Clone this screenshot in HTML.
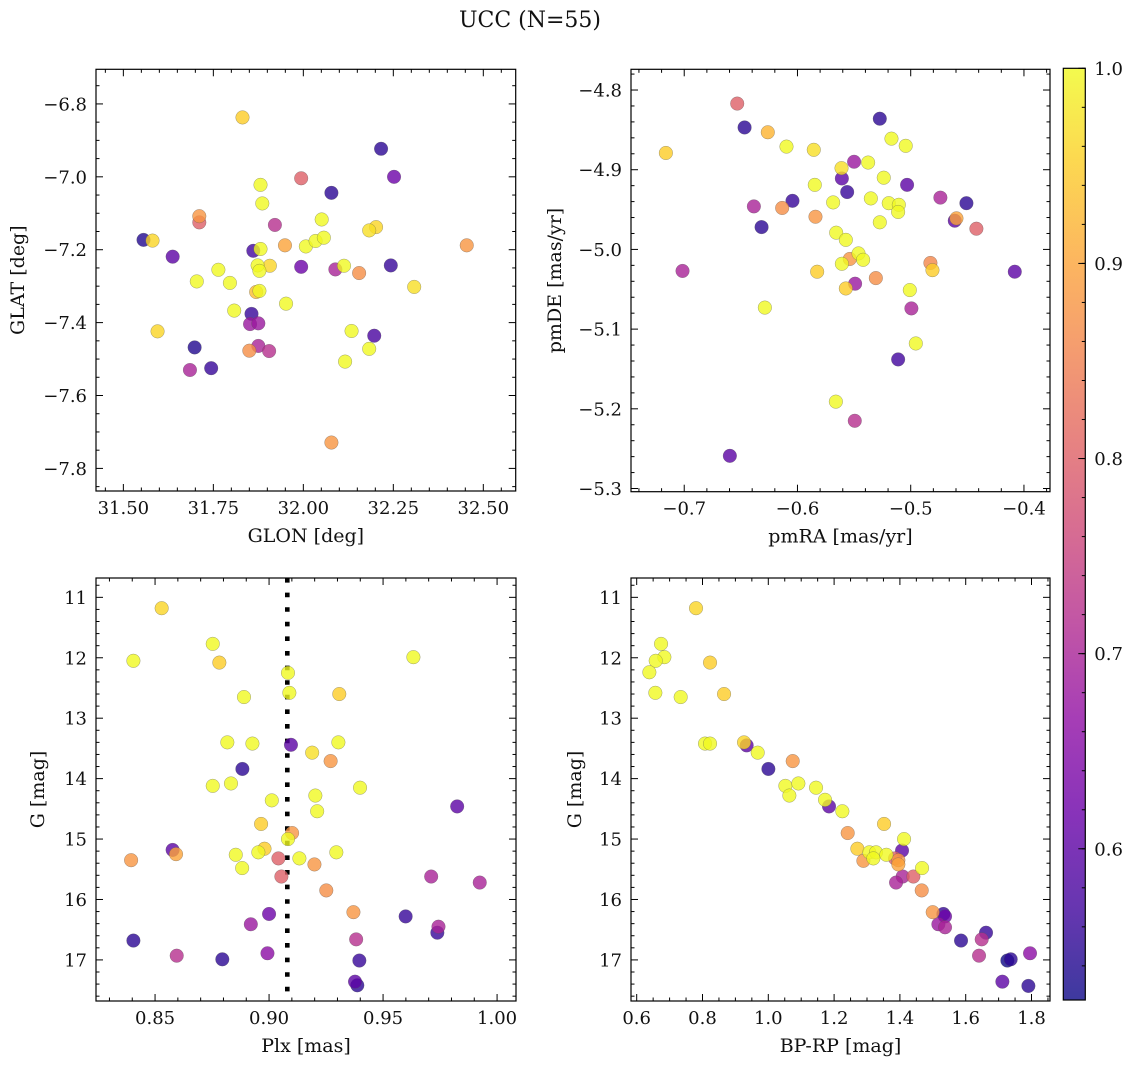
<!DOCTYPE html>
<html>
<head>
<meta charset="utf-8">
<style>
  html,body{margin:0;padding:0;background:#fff;}
  svg{display:block;}
  text{font-family:"DejaVu Serif","Liberation Serif",serif;fill:#111;}
</style>
</head>
<body>
<svg id="fig" width="1136" height="1068" viewBox="0 0 1136 1068" xmlns="http://www.w3.org/2000/svg">
  <text x="530" y="27" font-size="22" text-anchor="middle">UCC (N=55)</text>
</svg>
<script>
// ---- Panel 1: positions ----
const glon=[31.831,32.216,32.252,31.994,32.078,31.881,31.886,31.711,31.711,31.921,32.051,32.183,32.202,31.556,31.581,31.637,31.861,31.881,31.949,32.007,32.034,32.057,32.454,31.764,31.704,31.796,31.873,31.878,31.907,31.994,32.089,32.113,32.155,32.243,32.308,31.869,31.878,31.952,31.808,31.856,31.852,31.875,31.595,32.134,32.197,31.698,31.850,31.875,31.905,32.183,32.116,31.685,31.744,32.078];
const glat=[-6.837,-6.923,-7.000,-7.004,-7.044,-7.022,-7.073,-7.108,-7.125,-7.132,-7.117,-7.147,-7.138,-7.173,-7.175,-7.219,-7.203,-7.198,-7.188,-7.191,-7.176,-7.167,-7.188,-7.255,-7.287,-7.291,-7.243,-7.258,-7.244,-7.247,-7.254,-7.244,-7.264,-7.243,-7.302,-7.316,-7.313,-7.348,-7.367,-7.376,-7.404,-7.402,-7.424,-7.423,-7.436,-7.468,-7.477,-7.464,-7.478,-7.472,-7.507,-7.530,-7.525,-7.729];
const probPos=[0.95,0.55,0.62,0.80,0.55,1,1,0.88,0.80,0.72,1,0.97,0.96,0.54,0.96,0.60,0.57,1,0.90,1,1,1,0.88,1,1,1,1,1,0.96,0.62,0.70,1,0.87,0.56,0.97,0.93,1,1,1,0.56,0.68,0.68,0.96,1,0.58,0.54,0.87,0.70,0.72,1,1,0.70,0.56,0.88];
// ---- Panel 2: proper motions ----
const pmra=[-0.7162,-0.7015,-0.6532,-0.6467,-0.6262,-0.6097,-0.5856,-0.6385,-0.6135,-0.6044,-0.6317,-0.6288,-0.6597,-0.5847,-0.5841,-0.5826,-0.5685,-0.5611,-0.5608,-0.5561,-0.5500,-0.5658,-0.5573,-0.5538,-0.5461,-0.5420,-0.5608,-0.5491,-0.5573,-0.5273,-0.5170,-0.5044,-0.5376,-0.5238,-0.5032,-0.5352,-0.5194,-0.5105,-0.5111,-0.5273,-0.5308,-0.5008,-0.4994,-0.4955,-0.5111,-0.5661,-0.5494,-0.4738,-0.4508,-0.4611,-0.4596,-0.4420,-0.4826,-0.4808,-0.4081];
const pmde=[-4.879,-5.027,-4.817,-4.847,-4.853,-4.871,-4.875,-4.946,-4.948,-4.939,-4.972,-5.073,-5.259,-4.919,-4.959,-5.028,-4.941,-4.898,-4.911,-4.928,-4.890,-4.979,-4.988,-5.012,-5.005,-5.013,-5.018,-5.043,-5.049,-4.836,-4.861,-4.870,-4.891,-4.910,-4.919,-4.936,-4.942,-4.944,-4.953,-4.966,-5.036,-5.051,-5.074,-5.118,-5.138,-5.191,-5.215,-4.935,-4.942,-4.964,-4.961,-4.974,-5.017,-5.026,-5.028];
const probPm=[0.95,0.70,0.80,0.55,0.92,1,0.97,0.70,0.87,0.56,0.55,1,0.60,1,0.88,0.95,1,0.97,0.60,0.56,0.68,1,1,0.88,1,1,1,0.68,0.95,0.55,1,1,1,1,0.60,1,1,1,1,1,0.87,1,0.70,1,0.57,1,0.72,0.70,0.55,0.60,0.90,0.80,0.86,0.95,0.60];
// ---- Panel 3: parallax vs G ----
const plx=[0.8529,0.8753,0.8405,0.8782,0.9633,0.9083,0.9089,0.8890,0.9308,0.8817,0.8927,0.9096,0.9304,0.9189,0.9270,0.8883,0.8753,0.8833,0.9399,0.9012,0.9203,0.9211,0.9825,0.8965,0.9101,0.9083,0.8577,0.8592,0.8395,0.8854,0.8980,0.8953,0.9041,0.9133,0.9295,0.8882,0.9199,0.9054,0.9711,0.9924,0.9251,0.9370,0.9000,0.9599,0.8920,0.9743,0.9738,0.8405,0.9382,0.8595,0.8795,0.8993,0.9396,0.9377,0.9387];
const gPlx=[11.18,11.77,12.05,12.08,11.99,12.25,12.58,12.65,12.60,13.40,13.42,13.44,13.40,13.57,13.71,13.84,14.12,14.08,14.15,14.36,14.28,14.54,14.46,14.75,14.90,15.00,15.18,15.25,15.35,15.26,15.16,15.22,15.32,15.32,15.22,15.48,15.42,15.62,15.62,15.72,15.85,16.21,16.24,16.28,16.41,16.45,16.55,16.68,16.66,16.93,16.99,16.89,17.01,17.36,17.42];
const probPlx=[0.96,1,1,0.95,1,1,1,1,0.95,1,1,0.60,1,0.97,0.88,0.55,1,1,1,1,1,1,0.60,0.95,0.88,1,0.60,0.90,0.88,1,0.95,1,0.80,1,1,1,0.88,0.80,0.70,0.70,0.87,0.88,0.62,0.56,0.68,0.70,0.56,0.55,0.72,0.72,0.55,0.66,0.56,0.60,0.55];
const plxMedian=[0.908];
// ---- Panel 4: CMD ----
const bprp=[0.7803,0.6740,0.6841,0.6578,0.6385,0.8229,0.6567,0.7337,0.8655,0.8077,0.8229,0.9343,0.9262,0.9678,1.0742,1.0002,1.0519,1.0914,1.1451,1.0640,1.1724,1.1846,1.2251,1.3518,1.2413,1.4126,1.4065,1.3953,1.2890,1.2707,1.3072,1.3274,1.3852,1.3193,1.3589,1.4673,1.3953,1.4409,1.4085,1.3883,1.4663,1.4997,1.5372,1.5321,1.5169,1.5372,1.6618,1.5858,1.6486,1.6405,1.7368,1.7955,1.7266,1.7114,1.7905];
const gCmd=[11.18,11.77,11.99,12.05,12.24,12.08,12.58,12.65,12.60,13.42,13.42,13.45,13.40,13.57,13.71,13.84,14.12,14.08,14.15,14.28,14.35,14.46,14.54,14.75,14.90,15.00,15.19,15.42,15.36,15.16,15.22,15.22,15.32,15.32,15.26,15.48,15.35,15.62,15.62,15.72,15.85,16.21,16.28,16.24,16.41,16.46,16.55,16.68,16.66,16.93,16.99,16.89,17.01,17.36,17.43];
const probCmd=[0.96,1,1,1,1,0.95,1,1,0.95,1,1,0.60,0.96,1,0.88,0.55,1,1,1,1,1,0.60,1,0.95,0.88,1,0.60,0.90,0.88,0.95,1,1,0.80,1,1,1,0.88,0.80,0.70,0.70,0.87,0.88,0.62,0.56,0.68,0.70,0.56,0.55,0.72,0.72,0.55,0.66,0.52,0.60,0.55];
// ---- Colorbar ----
const cbTicks=[0.6,0.7,0.8,0.9,1.0];
const cbRange=[0.5225,1.0];

const NS="http://www.w3.org/2000/svg";
const svg=document.getElementById('fig');
function mk(tag,attrs,parent){const e=document.createElementNS(NS,tag);for(const k in attrs)e.setAttribute(k,attrs[k]);(parent||svg).appendChild(e);return e;}

const plasma=[[13,8,135],[65,4,157],[106,0,168],[143,13,164],[177,42,144],[204,71,120],[225,100,98],[242,132,75],[252,166,54],[252,206,37],[240,249,33]];
function cmap(p){let t=(p-cbRange[0])/(cbRange[1]-cbRange[0]);t=Math.max(0,Math.min(1,t));const s=t*10;const i=Math.min(9,Math.floor(s));const f=s-i;const a=plasma[i],b=plasma[i+1];return 'rgb('+a.map((v,k)=>Math.round(v+(b[k]-v)*f)).join(',')+')';}
function fmt(v,d){const s=Math.abs(v).toFixed(d);return (v<-1e-9?'\u2212':'')+s;}

const TICKFS=18, LABELFS=19;
function panel(cfg){
  const [L,T,R,B]=cfg.box;
  const sx=v=>L+(v-cfg.xlim[0])/(cfg.xlim[1]-cfg.xlim[0])*(R-L);
  const sy=v=>T+(v-cfg.ylim[0])/(cfg.ylim[1]-cfg.ylim[0])*(B-T);
  const g=mk('g',{});
  
  
  const clipId='clip-'+cfg.name;
  const cp=mk('clipPath',{id:clipId},g);mk('rect',{x:L,y:T,width:R-L,height:B-T},cp);
  const n=Math.min(cfg.xs.length,cfg.ys.length,cfg.ps.length);
  const idx=[...Array(n).keys()].sort((a,b)=>cfg.ps[a]-cfg.ps[b]);
  const pg=mk('g',{'clip-path':'url(#'+clipId+')'},g);
  if(cfg.vline){
    const vl=mk('line',{x1:sx(cfg.vline[0]),x2:sx(cfg.vline[0]),y1:T,y2:B,stroke:'#000','stroke-width':4.6,'stroke-dasharray':'4.6 10'},pg);
    
    
  }
  idx.forEach(i=>{
    const c=mk('circle',{cx:sx(cfg.xs[i]),cy:sy(cfg.ys[i]),r:6.8,fill:cmap(cfg.ps[i]),'fill-opacity':0.8,stroke:'#555','stroke-opacity':0.55,'stroke-width':0.5},pg);
    
    
  });
  mk('rect',{x:L,y:T,width:R-L,height:B-T,fill:'none',stroke:'#000','stroke-width':1.2},g);
  function ticks(lo,hi,step){const a=[];const k0=Math.ceil(Math.min(lo,hi)/step-1e-6),k1=Math.floor(Math.max(lo,hi)/step+1e-6);for(let k=k0;k<=k1;k++)a.push(k*step);return a;}
  const isMaj=(v,step)=>Math.abs(v/step-Math.round(v/step))<1e-4;
  ticks(cfg.xlim[0],cfg.xlim[1],cfg.xminor).forEach(v=>{
    const maj=isMaj(v,cfg.xmajor);const len=maj?7:3.5;const x=sx(v);
    mk('line',{x1:x,x2:x,y1:B,y2:B-len,stroke:'#000','stroke-width':1},g);
    mk('line',{x1:x,x2:x,y1:T,y2:T+len,stroke:'#000','stroke-width':1},g);
    if(maj){const t=mk('text',{x:x,y:B+23,'font-size':TICKFS,'text-anchor':'middle'},g);t.textContent=fmt(v,cfg.xdec);
      }
  });
  ticks(cfg.ylim[0],cfg.ylim[1],cfg.yminor).forEach(v=>{
    const maj=isMaj(v,cfg.ymajor);const len=maj?7:3.5;const y=sy(v);
    mk('line',{x1:L,x2:L+len,y1:y,y2:y,stroke:'#000','stroke-width':1},g);
    mk('line',{x1:R,x2:R-len,y1:y,y2:y,stroke:'#000','stroke-width':1},g);
    if(maj){const t=mk('text',{x:L-9,y:y+6.5,'font-size':TICKFS,'text-anchor':'end'},g);t.textContent=fmt(v,cfg.ydec);
      }
  });
  const xl=mk('text',{x:(L+R)/2,y:B+51,'font-size':LABELFS,'text-anchor':'middle'},g);xl.textContent=cfg.xlabel;
  
  const yx=cfg.ylabelX,yy=(T+B)/2;
  const yl=mk('text',{x:yx,y:yy,'font-size':LABELFS,'text-anchor':'middle',transform:'rotate(-90 '+yx+' '+yy+')'},g);yl.textContent=cfg.ylabel;
  
}

panel({name:'panel-position',box:[96,69.3,515.7,491],xlim:[31.424,32.59],ylim:[-6.705,-7.862],xs:glon,ys:glat,ps:probPos,xmajor:0.25,xminor:0.05,xdec:2,ymajor:0.2,yminor:0.05,ydec:1,xlabel:'GLON [deg]',ylabel:'GLAT [deg]',ylabelX:24});
panel({name:'panel-proper-motion',box:[631,69.3,1050,491.7],xlim:[-0.747,-0.377],ylim:[-4.774,-5.304],xs:pmra,ys:pmde,ps:probPm,xmajor:0.1,xminor:0.02,xdec:1,ymajor:0.1,yminor:0.02,ydec:1,xlabel:'pmRA [mas/yr]',ylabel:'pmDE [mas/yr]',ylabelX:561});
panel({name:'panel-parallax',box:[96,578,516,1001],xlim:[0.8241,1.0083],ylim:[10.68,17.68],xs:plx,ys:gPlx,ps:probPlx,xmajor:0.05,xminor:0.01,xdec:2,ymajor:1,yminor:0.2,ydec:0,xlabel:'Plx [mas]',ylabel:'G [mag]',ylabelX:44,vline:plxMedian});
panel({name:'panel-cmd',box:[631,578,1050,1001],xlim:[0.5827,1.8562],ylim:[10.68,17.68],xs:bprp,ys:gCmd,ps:probCmd,xmajor:0.2,xminor:0.05,xdec:1,ymajor:1,yminor:0.2,ydec:0,xlabel:'BP-RP [mag]',ylabel:'G [mag]',ylabelX:581});

(function(){
  const L=1063.3,R=1085.3,T=68.3,B=1000;
  const g=mk('g',{});
  
  
  const defs=mk('defs',{},g);
  const lg=mk('linearGradient',{id:'cbgrad',x1:0,y1:1,x2:0,y2:0},defs);
  plasma.forEach((c,i)=>mk('stop',{offset:(i/10),'stop-color':'rgb('+c.join(',')+')','stop-opacity':0.8},lg));
  mk('rect',{x:L,y:T,width:R-L,height:B-T,fill:'url(#cbgrad)'},g);
  mk('rect',{x:L,y:T,width:R-L,height:B-T,fill:'none',stroke:'#000','stroke-width':1.2},g);
  const sy=v=>B-(v-cbRange[0])/(cbRange[1]-cbRange[0])*(B-T);
  for(let k=Math.ceil(cbRange[0]/0.02-1e-6);k<=Math.floor(cbRange[1]/0.02+1e-6);k++){
    const v=k*0.02;const y=sy(v);
    mk('line',{x1:R,x2:R-3.5,y1:y,y2:y,stroke:'#000','stroke-width':1},g);
  }
  cbTicks.forEach(v=>{
    const y=sy(v);
    mk('line',{x1:R,x2:R-7,y1:y,y2:y,stroke:'#000','stroke-width':1},g);
    const t=mk('text',{x:R+9,y:y+6.5,'font-size':TICKFS},g);t.textContent=v.toFixed(1);
    
    
  });
})();
</script>
</body>
</html>
